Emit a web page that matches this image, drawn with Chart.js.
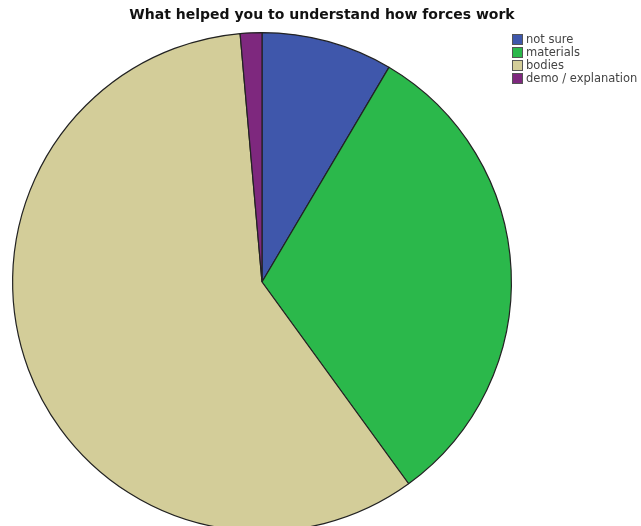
<!DOCTYPE html>
<html>
<head>
<meta charset="utf-8">
<script src="https://cdn.jsdelivr.net/npm/chart.js@4/dist/chart.umd.min.js"></script>
<style>
  html, body { margin: 0; padding: 0; background: #fff; }
  #wrap { position: relative; width: 641px; height: 526px; overflow: hidden; }
  #pie { position: absolute; left: 0; top: 0; }
  #title { position: absolute; left: 0; width: 644px; top: 6px; text-align: center; font-family: "DejaVu Sans", sans-serif; font-size: 14px; font-weight: bold; color: #111; }
  #legend { position: absolute; left: 512px; top: 33px; font-family: "DejaVu Sans", sans-serif; font-size: 11.5px; color: #444; }
  #legend div { height: 13px; line-height: 12px; white-space: nowrap; }
  #legend span.sw { display: inline-block; width: 9px; height: 9px; border: 1px solid #555; vertical-align: top; margin-top: 1px; margin-right: 3px; }
</style>
</head>
<body>
<div id="wrap">
  <canvas id="pie" width="641" height="545"></canvas>
  <div id="title"></div>
  <div id="legend"></div>
</div>
<script>
const chartTitle = "What helped you to understand how forces work";
const categories = ["not sure", "materials", "bodies", "demo / explanation"];
const percents = [8.5, 31.5, 58.6, 1.4];
const colors = ["#3f57ab", "#2bb84b", "#d3cd99", "#7e287e"];

document.getElementById("title").innerText = chartTitle;

// legend
const legend = document.getElementById("legend");
categories.forEach((c, i) => {
  const row = document.createElement("div");
  const sw = document.createElement("span");
  sw.className = "sw";
  sw.style.background = colors[i];
  row.appendChild(sw);
  row.appendChild(document.createTextNode(c));
  legend.appendChild(row);
});

const ctx = document.getElementById("pie").getContext("2d");
new Chart(ctx, {
  type: "pie",
  data: {
    labels: categories,
    datasets: [{
      data: percents,
      backgroundColor: colors,
      borderColor: "#222",
      borderWidth: 1.2
    }]
  },
  options: {
    responsive: false,
    animation: false,
    layout: { padding: { left: 12, right: 129, top: 32, bottom: 13 } },
    plugins: {
      legend: { display: false },
      tooltip: { enabled: false },
      title: { display: false }
    }
  }
});
</script>
</body>
</html>
